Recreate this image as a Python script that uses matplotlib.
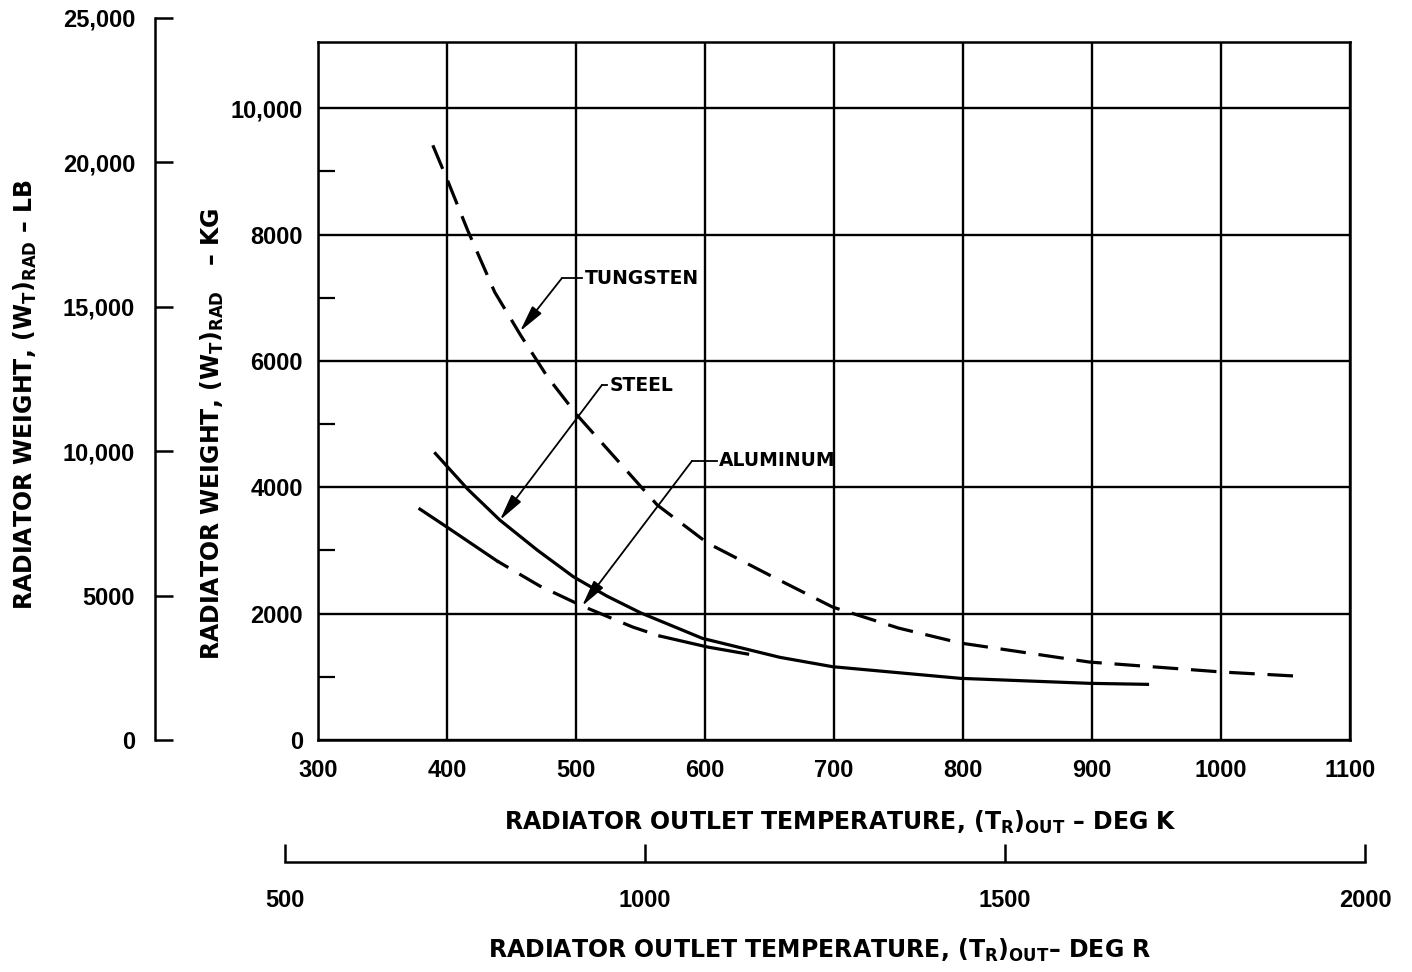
import numpy as np
import matplotlib
matplotlib.use("Agg")
import matplotlib.pyplot as plt

# Radiator outlet temperature (K) vs. radiator weight (kg) for each material
tungsten_T = [389, 401, 416, 437, 457, 478, 501, 532, 563, 602, 653, 699, 750, 798, 898, 1001, 1057]
tungsten_W = [9415, 8830, 8070, 7090, 6410, 5745, 5140, 4430, 3720, 3117, 2579, 2104, 1772, 1535, 1234, 1076, 1013]

steel_T = [391, 416, 441, 470, 498, 524, 550, 598, 658, 699, 798, 898, 943]
steel_W = [4536, 3972, 3481, 3006, 2584, 2278, 2014, 1609, 1309, 1160, 976, 897, 881]

aluminum_T = [379, 400, 439, 472, 505, 544, 565, 602, 633]
aluminum_W = [3655, 3370, 2832, 2437, 2120, 1788, 1646, 1472, 1361]
aluminum_dash_range = (439, 565)   # portion of the aluminum curve drawn dashed

k_ticks = [300, 400, 500, 600, 700, 800, 900, 1000, 1100]
kg_ticks = [0, 2000, 4000, 6000, 8000, 10000]
kg_labels = ["0", "2000", "4000", "6000", "8000", "10,000"]
lb_ticks = [0, 5000, 10000, 15000, 20000, 25000]
lb_labels = ["0", "5000", "10,000", "15,000", "20,000", "25,000"]
r_ticks = [500, 1000, 1500, 2000]
r_labels = ["500", "1000", "1500", "2000"]

# (label, text anchor x, y, leader corner x, arrow tip x, y)
callouts = [
    ("TUNGSTEN", 505, 7310, 489, 456.6, 6470),
    ("STEEL", 524, 5617, 520, 441, 3481),
    ("ALUMINUM", 609, 4420, 590, 504.7, 2120),
]

plt.rcParams["mathtext.fontset"] = "custom"
plt.rcParams["mathtext.rm"] = "DejaVu Sans:bold"
plt.rcParams["mathtext.it"] = "DejaVu Sans:bold"
plt.rcParams["mathtext.bf"] = "DejaVu Sans:bold"
plt.rcParams["font.family"] = ["DejaVu Sans"]

W, H = 1412, 972
fig = plt.figure(figsize=(W / 100, H / 100), dpi=100)
tick_font = dict(family=["Liberation Sans", "DejaVu Sans"], weight="bold", size=17)


def px(v):  # points from pixels
    return v * 72 / 100


# ---- main axes (K, kg) ----
ax = fig.add_axes([318 / W, (H - 740) / H, (1350 - 318) / W, (740 - 42) / H])
ax.set_xlim(300, 1100)
ax.set_ylim(0, 11050)
ax.set_xticks(k_ticks)
ax.set_xticklabels([str(t) for t in k_ticks], fontdict=tick_font)
ax.set_yticks(kg_ticks)
ax.set_yticklabels(kg_labels, fontdict=tick_font)
ax.set_yticks([1000, 3000, 5000, 7000, 9000], minor=True)
ax.tick_params(axis="both", which="major", length=0, pad=px(19))
ax.tick_params(axis="y", which="major", pad=px(15))
ax.tick_params(axis="y", which="minor", direction="in", length=px(17), width=1.6)
ax.grid(True, which="major", color="black", linewidth=1.7)
for s in ax.spines.values():
    s.set_linewidth(1.8)

lw = 2.3
ax.plot(tungsten_T, tungsten_W, color="black", lw=lw, linestyle=(0, (8, 4)), solid_capstyle="butt")
ax.plot(steel_T, steel_W, color="black", lw=lw)

aT = np.array(aluminum_T)
aW = np.array(aluminum_W)
lo, hi = aluminum_dash_range
ax.plot(aT[aT <= lo], aW[aT <= lo], color="black", lw=lw)
mid = (aT >= lo) & (aT <= hi)
ax.plot(aT[mid], aW[mid], color="black", lw=lw, linestyle=(4, (8, 4)))
ax.plot(aT[aT >= hi], aW[aT >= hi], color="black", lw=lw)

for name, tx, ty, cx, ax_, ay in callouts:
    ax.plot([cx, tx], [ty, ty], color="black", lw=1.3)
    ax.annotate("", xy=(ax_, ay), xytext=(cx, ty),
                arrowprops=dict(arrowstyle="-|>,head_length=0.9,head_width=0.2",
                                color="black", lw=1.3, shrinkA=0, shrinkB=0,
                                mutation_scale=18))
    ax.text(tx + 2, ty, name, ha="left", va="center", fontsize=13.5,
            fontweight="bold", color="black")

# ---- pound scale ----
axl = fig.add_axes([155 / W, (H - 740) / H, 0.03, (740 - 18) / H])
axl.patch.set_visible(False)
for k in ["top", "right", "bottom"]:
    axl.spines[k].set_visible(False)
axl.spines["left"].set_linewidth(1.8)
axl.set_ylim(0, 25000)
axl.set_yticks(lb_ticks)
axl.set_yticklabels(lb_labels, fontdict=tick_font)
axl.tick_params(axis="y", direction="in", length=px(18), width=1.8, pad=px(20))
axl.set_xticks([])

# ---- Rankine scale ----
axr = fig.add_axes([285 / W, (H - 862) / H, (1365 - 285) / W, 0.03])
axr.patch.set_visible(False)
for k in ["top", "right", "left"]:
    axr.spines[k].set_visible(False)
axr.spines["bottom"].set_linewidth(1.8)
axr.set_xlim(500, 2000)
axr.set_xticks(r_ticks)
axr.set_xticklabels(r_labels, fontdict=tick_font)
axr.tick_params(axis="x", direction="in", length=px(18), width=1.8, pad=px(27))
axr.set_yticks([])

# ---- axis titles ----
lab = dict(fontsize=17, fontweight="bold", color="black")
fig.text(840 / W, 1 - 822 / H,
         r"RADIATOR OUTLET TEMPERATURE, $(\mathrm{T_R})_{\mathrm{OUT}}$ – DEG K",
         ha="center", va="center", **lab)
fig.text(820 / W, 1 - 950 / H,
         r"RADIATOR OUTLET TEMPERATURE, $(\mathrm{T_R})_{\mathrm{OUT}}$– DEG R",
         ha="center", va="center", **lab)
fig.text(212 / W, 1 - 434 / H,
         r"RADIATOR WEIGHT, $(\mathrm{W_T})_{\mathrm{RAD}}$   – KG",
         ha="center", va="center", rotation=90, **lab)
fig.text(25 / W, 1 - 394 / H,
         r"RADIATOR WEIGHT, $(\mathrm{W_T})_{\mathrm{RAD}}$ – LB",
         ha="center", va="center", rotation=90, **lab)

fig.savefig("out.png", dpi=100, facecolor="white")
